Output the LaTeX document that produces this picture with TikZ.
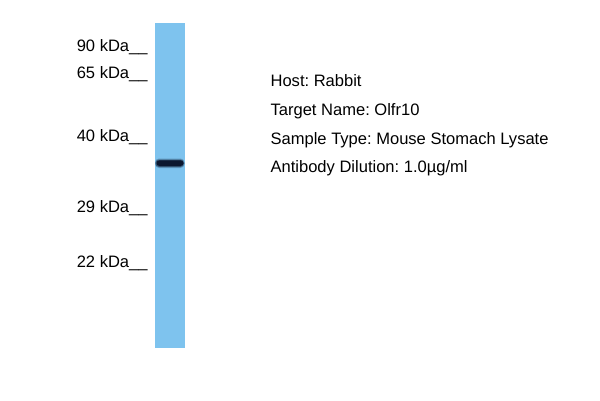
\documentclass[tikz,border=0pt]{standalone}
\usepackage{fontspec}
\setmainfont{Liberation Sans}
\begin{document}
\frenchspacing
\begin{tikzpicture}[x=1bp,y=-1bp,font=\fontsize{16.6}{19}\selectfont,
		marker/.style={anchor=base west,inner sep=0pt},
		info/.style={anchor=base west,inner sep=0pt}]
		\useasboundingbox (0,0) rectangle (600,400);
		\definecolor{lane}{RGB}{126,195,238}
		\definecolor{band}{RGB}{12,24,48}
		\coordinate (LT) at (155,22.5);
		\coordinate (RB) at (185,348);
		\fill [lane] (LT) rectangle (RB);
		% band
		\fill [band,opacity=0.25,rounded corners=4] (155,158.5) rectangle (184.5,168);
		\fill [band,opacity=0.5,rounded corners=3.5] (155.5,159.5) rectangle (184,167);
		\fill [band,rounded corners=3] (156.5,160.3) rectangle (183.5,166);
		% markers
		\node [marker] (m90) at (76.6,51.5) {90 kDa\_\_};
		\node [marker] (m65) at (76.6,78) {65 kDa\_\_};
		\node [marker] (m40) at (76.6,141.5) {40 kDa\_\_};
		\node [marker] (m29) at (76.6,212) {29 kDa\_\_};
		\node [marker] (m22) at (76.6,267) {22 kDa\_\_};
		% info
		\node [info] (host) at (270.4,86.7) {Host: Rabbit};
		\node [info] (target) at (270.4,115.7) {Target Name: Olfr10};
		\node [info] (sample) at (270.4,144.3) {Sample Type: Mouse Stomach Lysate};
		\node [info] (dilution) at (270.4,172.7) {Antibody Dilution: 1.0µg/ml};
	\end{tikzpicture}
\end{document}
